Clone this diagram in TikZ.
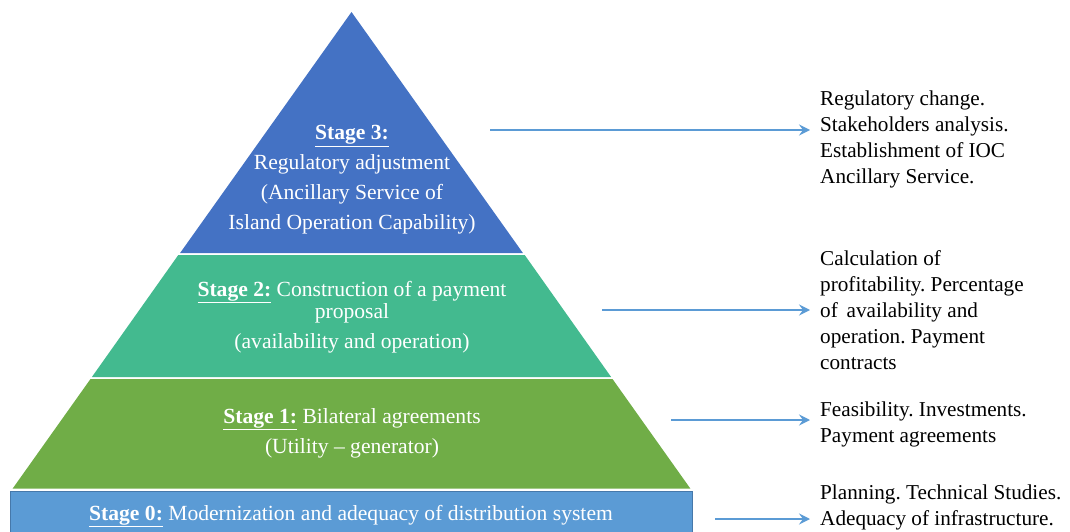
\documentclass[tikz,border=0pt]{standalone}
\usepackage{fontspec}
\setmainfont{Liberation Serif}
\usetikzlibrary{arrows.meta}
\definecolor{stagethree}{RGB}{68,114,196}
\definecolor{stagetwo}{RGB}{67,186,143}
\definecolor{stageone}{RGB}{112,173,71}
\definecolor{stagezero}{RGB}{91,155,213}
\definecolor{zeroedge}{RGB}{70,120,170}
\definecolor{arrowblue}{RGB}{91,155,213}
\newcommand{\stg}[1]{\underline{\textbf{Stage #1:}}}
\frenchspacing

\begin{document}
\begin{tikzpicture}[x=1pt,y=-1pt,
    inside/.style={text=white,align=center,font=\fontsize{21.6}{30}\selectfont},
    note/.style={anchor=west,align=left,inner xsep=10pt,font=\fontsize{21.2}{26}\selectfont},
    link/.style={-{Stealth[length=11pt,width=11pt,inset=4pt]},arrowblue,line width=2pt}]
    \useasboundingbox (0,0) rectangle (1070,532);
    % pyramid layers
    \fill [stagethree] (351.5,12) -- (522.9,253) -- (180.1,253) -- cycle;
    \fill [stagetwo] (178.3,255) -- (524.7,255) -- (611.1,377) -- (91.9,377) -- cycle;
    \fill [stageone] (90.5,379) -- (612.5,379) -- (690.3,488.5) -- (12.7,488.5) -- cycle;
    \draw [zeroedge,fill=stagezero] (10.5,491) rectangle (692,545);

    \node [inside] (stageIII) at (352,180) {\stg{3}\\Regulatory adjustment\\(Ancillary Service of\\Island Operation Capability)};
    \node [inside] (stageII) at (352,317) {\stg{2} Construction of a payment\\[-8pt]proposal\\(availability and operation)};
    \node [inside] (stageI) at (352,433) {\stg{1} Bilateral agreements\\(Utility -- generator)};
    \node [inside] (stage0) at (351,516) {\stg{0} Modernization and adequacy of distribution system};

    % notes on the right
    \node [note] (noteIII) at (810,139) {Regulatory change.\\Stakeholders analysis.\\Establishment of IOC\\Ancillary Service.};
    \node [note] (noteII) at (810,310) {Calculation of\\profitability. Percentage\\of\, availability and\\operation. Payment\\contracts};
    \node [note] (noteI) at (810,424) {Feasibility. Investments.\\Payment agreements};
    \node [note] (note0) at (810,507) {Planning. Technical Studies.\\Adequacy of infrastructure.};

    \coordinate (fromIII) at (490,130);
    \coordinate (fromII) at (602,310);
    \coordinate (fromI) at (671,420);
    \coordinate (from0) at (715,519);
    \draw [link] (fromIII) -- (fromIII -| noteIII.west);
    \draw [link] (fromII) -- (fromII -| noteII.west);
    \draw [link] (fromI) -- (fromI -| noteI.west);
    \draw [link] (from0) -- (from0 -| note0.west);
\end{tikzpicture}
\end{document}
